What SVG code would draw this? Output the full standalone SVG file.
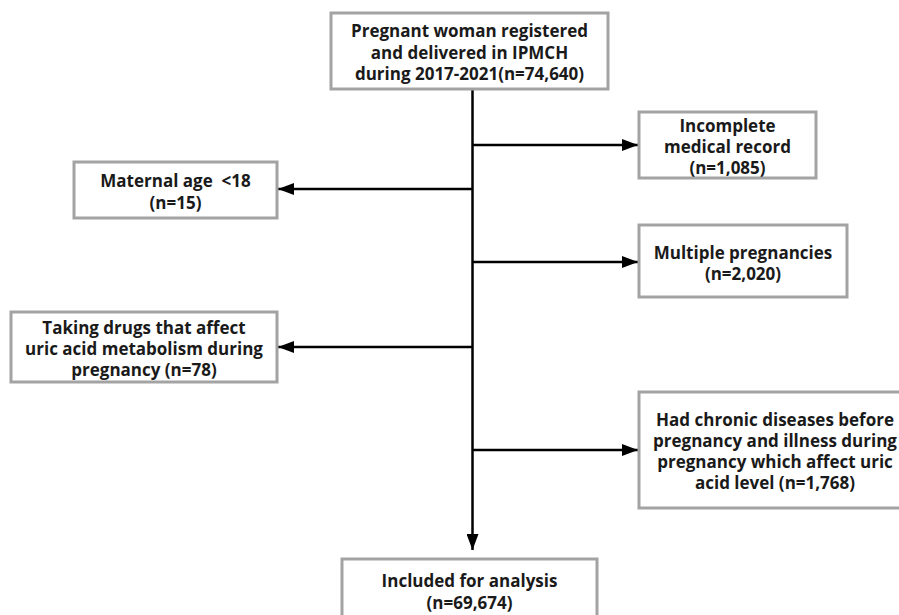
<svg xmlns="http://www.w3.org/2000/svg" width="899" height="615" viewBox="0 0 899 615">
<defs>
<style>
.box{fill:#fff;stroke:#a3a3a3;stroke-width:3}
.t{font-family:"Open Sans","Noto Sans","Liberation Sans",sans-serif;font-weight:bold;font-size:17px;fill:#1a1a1a;text-anchor:middle;dominant-baseline:central}
.ln{stroke:#000;stroke-width:2.5;fill:none}
</style>
<marker id="ah" viewBox="0 0 16 12" refX="16" refY="6" markerWidth="16" markerHeight="12" markerUnits="userSpaceOnUse" orient="auto">
<path d="M0,0 L16,6 L0,12 Z" fill="#000"/>
</marker>
</defs>
<rect width="899" height="615" fill="#fff"/>
<g id="connectors">
<line class="ln" x1="472.5" y1="89" x2="472.5" y2="550" marker-end="url(#ah)"/>
<line class="ln" x1="472.5" y1="145" x2="638" y2="145" marker-end="url(#ah)"/>
<line class="ln" x1="472.5" y1="189" x2="278" y2="189" marker-end="url(#ah)"/>
<line class="ln" x1="472.5" y1="262" x2="638" y2="262" marker-end="url(#ah)"/>
<line class="ln" x1="472.5" y1="347" x2="278" y2="347" marker-end="url(#ah)"/>
<line class="ln" x1="472.5" y1="450" x2="638" y2="450" marker-end="url(#ah)"/>
</g>
<g id="n-start">
<rect class="box" x="331" y="13" width="277" height="76"/>
<text class="t" x="469.5" y="30">Pregnant woman registered</text>
<text class="t" x="469.5" y="52">and delivered in IPMCH</text>
<text class="t" x="469.5" y="73">during 2017-2021(n=74,640)</text>
</g>
<g id="n-incomplete">
<rect class="box" x="639" y="112" width="177" height="66"/>
<text class="t" x="727.5" y="125">Incomplete</text>
<text class="t" x="727.5" y="146">medical record</text>
<text class="t" x="727.5" y="167">(n=1,085)</text>
</g>
<g id="n-age">
<rect class="box" x="74" y="162" width="203" height="56"/>
<text class="t" x="175.5" y="180">Maternal age &#160;&lt;18</text>
<text class="t" x="175.5" y="202">(n=15)</text>
</g>
<g id="n-multiple">
<rect class="box" x="639" y="225" width="208" height="72"/>
<text class="t" x="743" y="252">Multiple pregnancies</text>
<text class="t" x="743" y="273">(n=2,020)</text>
</g>
<g id="n-drugs">
<rect class="box" x="11" y="312" width="266" height="70"/>
<text class="t" x="144" y="327">Taking drugs that affect</text>
<text class="t" x="144" y="348">uric acid metabolism during</text>
<text class="t" x="144" y="369">pregnancy (n=78)</text>
</g>
<g id="n-chronic">
<rect class="box" x="639" y="392" width="274" height="116"/>
<text class="t" x="775" y="419">Had chronic diseases before</text>
<text class="t" x="775" y="440">pregnancy and illness during</text>
<text class="t" x="775" y="461">pregnancy which affect uric</text>
<text class="t" x="775" y="482">acid level (n=1,768)</text>
</g>
<g id="n-included">
<rect class="box" x="342" y="559" width="255" height="80"/>
<text class="t" x="469.5" y="580">Included for analysis</text>
<text class="t" x="469.5" y="602">(n=69,674)</text>
</g>
</svg>
